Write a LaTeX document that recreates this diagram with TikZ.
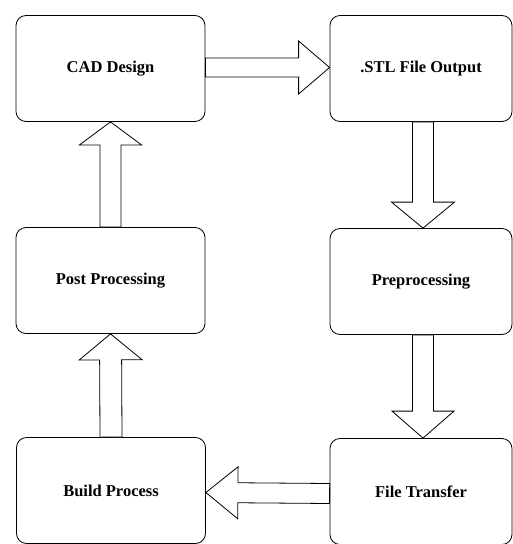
\documentclass[tikz,border=0pt]{standalone}
\usepackage{fontspec}
\setmainfont{Liberation Serif}
\usetikzlibrary{calc}
\tikzset{
  stagebox/.style={draw=black, line width=0.8pt, rounded corners=10pt, fill=white,
    minimum height=106pt, inner sep=0pt, font=\fontsize{16.5}{19}\selectfont\bfseries},
  leftbox/.style={stagebox, minimum width=189pt},
  rightbox/.style={stagebox, minimum width=182pt},
  blockarrow/.style={draw=black, line width=0.8pt, fill=white, line join=miter}
}
\newcommand\fatarrow[5]{%
  \path (#1) coordinate (fa-s);
  \path (#2) coordinate (fa-t);
  \coordinate (fa-h) at ($(fa-t)!#5!(fa-s)$);
  \draw[blockarrow] ($(fa-s)!#3!90:(fa-t)$) -- ($(fa-h)!#3!90:(fa-t)$)
    -- ($(fa-h)!#4!90:(fa-t)$) -- (fa-t) -- ($(fa-h)!#4!-90:(fa-t)$)
    -- ($(fa-h)!#3!-90:(fa-t)$) -- ($(fa-s)!#3!-90:(fa-t)$) -- cycle;
}
\begin{document}
\begin{tikzpicture}[x=1pt,y=-1pt]
\useasboundingbox (0,0) rectangle (513,544);
\node[leftbox]  (cad) at (110.5,68.5) {CAD Design};
\node[rightbox] (stl) at (421,68.5) {.STL File Output};
\node[leftbox]  (pp)  at (110.5,280.5) {Post Processing};
\node[rightbox] (pre) at (421,281.5) {Preprocessing};
\node[leftbox]  (bp)  at (111,490.5) {Build Process};
\node[rightbox] (ft)  at (421,491.5) {File Transfer};
\fatarrow{[yshift=1pt]cad.east}{[yshift=1pt]stl.west}{9.5pt}{26.5pt}{31pt}
\fatarrow{[xshift=2pt]stl.south}{[xshift=2pt]pre.north}{10.5pt}{31.5pt}{26pt}
\fatarrow{[xshift=2pt]pre.south}{[xshift=2pt]ft.north}{10.5pt}{31pt}{27pt}
\fatarrow{[yshift=-2pt]ft.west}{[yshift=-2pt]bp.east}{10pt}{26pt}{32pt}
\fatarrow{bp.north}{pp.south}{11pt}{31.5pt}{26pt}
\fatarrow{pp.north}{cad.south}{10.5pt}{31pt}{23pt}
\end{tikzpicture}
\end{document}
